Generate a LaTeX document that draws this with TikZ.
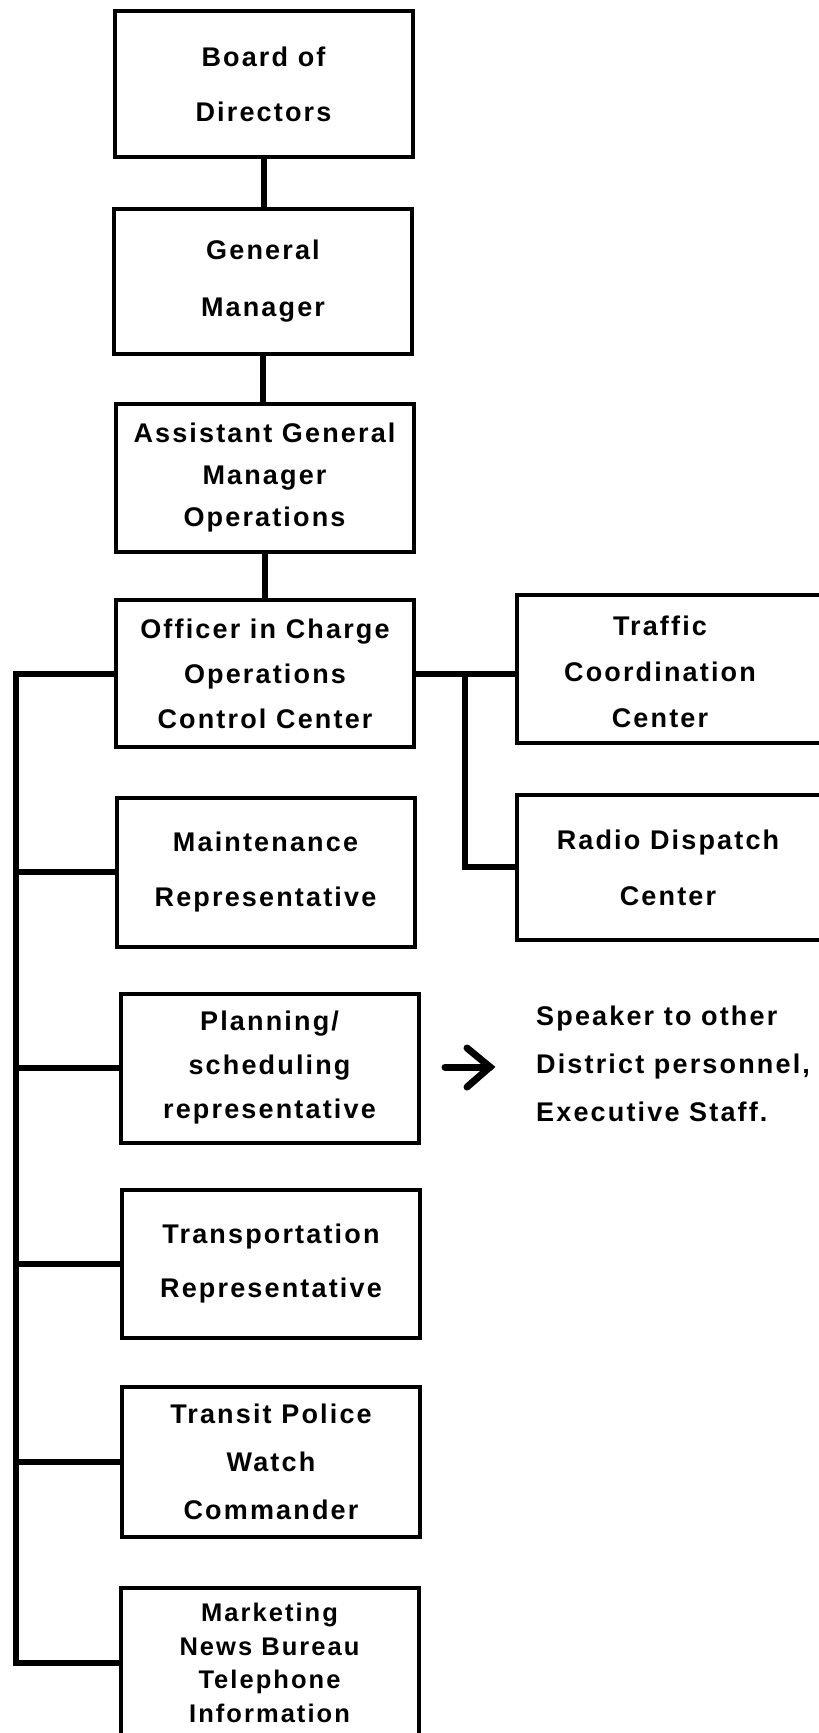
\documentclass[tikz,border=0pt]{standalone}
\usepackage{fontspec}
\setmainfont{Liberation Sans}[LetterSpace=8]
\begin{document}
\begin{tikzpicture}[x=1pt, y=-1pt,
  box/.style={draw, line width=4pt, minimum width=298pt, minimum height=147pt,
    inner sep=0pt, align=center},
  wide/.style={draw, line width=4pt, minimum width=328pt, minimum height=148pt, inner sep=0pt},
  lg/.style={font=\fontsize{27pt}{#1}\selectfont\bfseries},
  words/.style={inner sep=0pt, align=center},
  conn/.style={line width=6pt},
  arrowglyph/.style={line width=7pt, line cap=round, line join=miter}]

\useasboundingbox[fill=white] (0,0) rectangle (819,1733);

% chain of command
\node[box, lg=55pt, minimum height=146pt] (board) at (263.5,84) {Board of\\Directors};
\node[box, lg=57pt, minimum height=145pt] (gm) at (263,281) {General\\Manager};
\node[box, lg=42pt, minimum height=148pt] (agm) at (264.5,478) {Assistant General\\Manager\\Operations};
\node[box, lg=45pt] (occ) at (265,673.5) {Officer in Charge\\Operations\\Control Center};

% representatives on the left bus
\node[box, lg=55pt, minimum height=149pt] (maint) at (265.5,872) {Maintenance\\Representative};
\node[box, lg=44pt, minimum height=149pt] (plan) at (269.5,1068) {Planning/\\scheduling\\representative};
\node[box, lg=54pt, minimum height=148pt] (trans) at (271,1264) {Transportation\\Representative};
\node[box, lg=48pt, minimum height=150pt] (police) at (271,1462) {Transit Police\\Watch\\Commander};
\node[box, font=\fontsize{25.5pt}{33.5pt}\selectfont\bfseries, minimum height=150pt] (market) at (269.5,1663)
  {Marketing\\News Bureau\\Telephone\\Information};

% centres on the right, running off the sheet
\node[wide] (traffic) at (681,669) {};
\node[words, lg=46pt] (traffictxt) at (660,672) {Traffic\\Coordination\\Center};
\node[wide, minimum height=145pt] (radio) at (681,867) {};
\node[words, lg=56pt] (radiotxt) at (668,868) {Radio Dispatch\\Center};

% note beside the planning box
\node[inner sep=0pt, align=left, anchor=west, lg=48pt] (speaker) at (536,1064)
  {Speaker to other\\District personnel,\\Executive Staff.};
\coordinate (atail) at (445,1067);
\coordinate (ahead) at (490,1067);
\draw[arrowglyph] (atail) -- (ahead);
\draw[arrowglyph] ([shift={(-23,-19)}]ahead) -- (ahead) -- ([shift={(-23,20)}]ahead);

% vertical chain
\draw[conn] (board.south) -- (board.south |- gm.north);
\draw[conn] (gm.south) -- (gm.south |- agm.north);
\draw[conn] (agm.south) -- (agm.south |- occ.north);

% left bus
\coordinate (bus) at (16,0);
\draw[conn] (occ.west) -| (bus |- market.west) -- (market.west);
\foreach \n in {maint,plan,trans,police}
  \draw[conn] (\n.west) -- (bus |- \n.west);

% right branch
\coordinate (branch) at (465,0);
\draw[conn] (occ.east) -- (occ.east -| traffic.west);
\draw[conn] (occ.east -| branch) |- (radio.west);
\end{tikzpicture}
\end{document}
